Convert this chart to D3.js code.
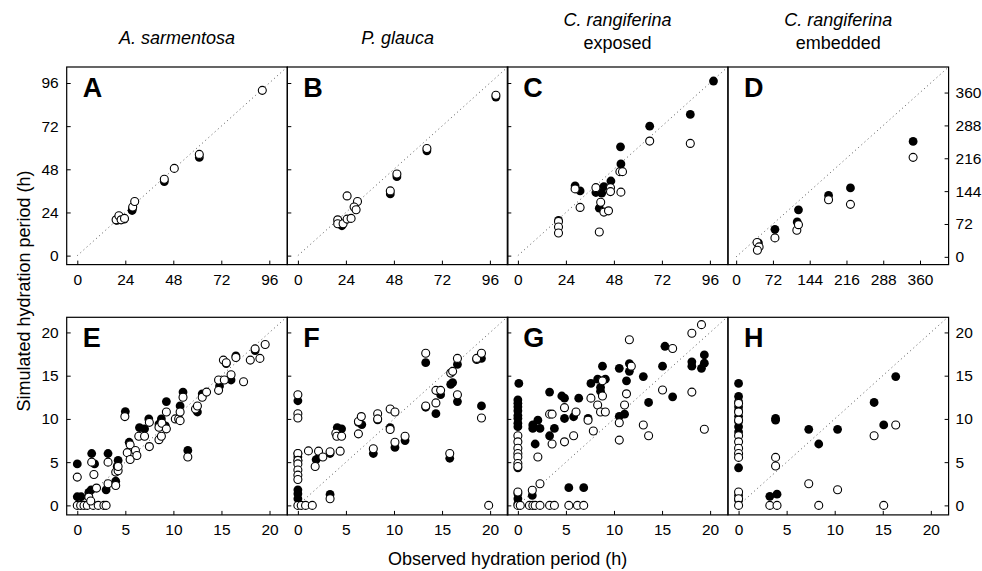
<!DOCTYPE html>
<html>
<head>
<meta charset="utf-8">
<script src="https://cdn.jsdelivr.net/npm/d3@7"></script>
<style>
  body { margin: 0; background: #fff; }
  text { font-family: "Liberation Sans", Arial, Helvetica, sans-serif; fill: #000; }
</style>
</head>
<body>
<div id="chart"></div>
<script>
// panel titles and letters
var titles = [["A. sarmentosa"], ["P. glauca"], ["C. rangiferina", "exposed"], ["C. rangiferina", "embedded"]];
var letters = [["A", "B", "C", "D"], ["E", "F", "G", "H"]];

var ticksHours = [0, 24, 48, 72, 96];
var ticksEmbedded = [0, 72, 144, 216, 288, 360];
var ticksShort = [0, 5, 10, 15, 20];

// [observed, simulated] hydration periods, filled and open symbols
var aFilled = [[19.8,19.6],[21,21.3],[23.5,20.3],[27.4,25.1],[27.6,26.2],[43.5,41.2],[61,54.6]];
var aOpen = [[19.4,19.9],[20.8,22.2],[21.9,19.9],[23.6,20.7],[27.7,27],[28.7,30.1],[43.5,42.5],[48.5,48.5],[61,56.3],[92.5,91.9]];

var bFilled = [[20.1,18.8],[22,16.6],[46.2,34.3],[49.5,43.9],[64.5,58.3],[99,88.2]];
var bOpen = [[19.9,19.9],[19.9,17.7],[22.6,17.7],[24.6,20.3],[26.6,20.7],[24.6,33.2],[29.8,30.1],[28.1,27],[29.1,25.5],[46.2,36],[49.5,45.4],[64.5,59.6],[99,89.2]];

var cFilled = [[20.3,19.6],[28.6,38.8],[31.1,36],[39,35.1],[40.7,26.4],[41.9,34.7],[43,38.4],[46.5,41.5],[51.5,51],[51.3,60.5],[65.9,72],[86.2,78.5],[97.8,97.1]];
var cOpen = [[20.3,19],[20.3,15.9],[20.3,12.6],[28.6,37.1],[31.1,26.8],[39,37.8],[40.7,13.1],[41.4,29.7],[43,24.2],[45.3,24.9],[46.3,37.8],[46.3,35.6],[51,46.7],[52.3,46.7],[51.5,35.3],[65.9,63.7],[86.2,62.4]];

var dFilled = [[43.6,30.5],[75.9,60.4],[119.5,76.4],[122,103],[180.9,134.5],[223.8,151],[346.5,253]];
var dOpen = [[40.9,31.3],[44.9,21.8],[41.6,14.5],[75.9,41.5],[118.8,58.2],[122,70.5],[180.9,125],[223.8,115],[346.5,218]];

var eFilled = [[0,4.8],[0,1.0],[0.4,1.0],[1.2,1.5],[1.45,1.8],[1.5,6.0],[1.8,4.8],[3.0,1.8],[3.2,6.0],[4.0,2.8],[4.15,4.5],[4.25,5.2],[5.0,10.85],[5.4,7.3],[6.47,9.0],[7.0,8.85],[7.44,10.0],[8.5,9.4],[8.75,10.0],[9.17,9.2],[9.27,12.0],[10.7,11.5],[11.0,13.1],[11.5,6.35],[12.5,10.8],[13.0,12.9],[14.8,13.8],[15.5,16.4],[16.0,14.5],[16.5,17.3],[18.5,17.9]];
var eOpen = [[0,3.27],[0,0],[0.35,0],[0.7,0],[1.04,0],[1.66,0],[2.18,0],[2.77,0],[3.0,0],[1.2,0.96],[1.4,0.5],[1.5,5.0],[1.73,3.58],[2.0,2.0],[3.2,2.5],[3.2,5.0],[4.0,2.3],[4.0,3.85],[4.25,4.0],[4.25,4.5],[4.95,10.27],[5.2,6.1],[5.5,5.3],[5.5,7.0],[6.05,6.35],[6.2,5.77],[6.4,8.0],[7.0,8.0],[7.5,6.8],[7.5,9.6],[8.5,7.6],[8.75,8.0],[8.5,9.04],[8.8,9.5],[9.27,8.85],[9.27,10.8],[10.2,10.0],[10.55,10.0],[10.7,9.8],[10.7,10.8],[11.0,12.5],[11.5,5.6],[12.3,11.15],[12.5,11.5],[13.0,12.5],[13.45,13.1],[14.7,13.3],[14.7,14.5],[15.3,14.5],[15.2,16.8],[15.5,16.5],[16.0,15.1],[16.5,17.1],[17.3,14.3],[18.0,16.8],[19.0,17.0],[18.5,18.1],[19.55,18.6]];

var fFilled = [[0,12.1],[0,6.0],[0,5.6],[0,5.2],[0,1.8],[0,1.35],[0,0.77],[1.9,5.3],[2.25,5.65],[3.35,6.0],[3.35,1.27],[4.1,9.0],[4.55,8.85],[6.3,9.6],[6.65,9.35],[7.85,6.0],[8.3,9.9],[9.6,9.0],[10.1,6.7],[11.15,7.5],[13.3,16.5],[13.3,11.35],[14.36,10.6],[14.85,12.8],[15.9,14.0],[16.1,14.2],[15.8,5.45],[16.6,16.3],[16.6,12.0],[18.6,16.85],[19.1,17.0],[19.1,11.5]];
var fOpen = [[0,12.8],[0,10.6],[0,10.1],[0,6.0],[0,5.2],[0,4.8],[0,4.1],[0,3.5],[0,3.0],[0,0],[0.35,0],[0.8,0],[1.5,0],[1.1,6.3],[1.8,4.5],[2.15,6.27],[2.6,5.6],[3.35,6.2],[3.35,0.77],[3.95,8.35],[4.05,8.0],[4.4,6.27],[4.55,8.0],[6.3,8.27],[6.3,9.7],[6.6,10.27],[7.85,6.55],[8.3,10.6],[8.3,10.0],[9.6,11.15],[9.6,8.77],[10.1,10.8],[10.1,7.3],[11.15,8.0],[13.3,17.6],[13.3,11.5],[14.36,11.85],[14.36,13.3],[14.85,13.3],[15.9,15.3],[16.1,15.5],[15.8,6.0],[16.6,17.0],[16.6,12.8],[18.6,17.0],[19.1,17.6],[19.1,10.1],[19.85,0]];

var gFilled = [[0.1,14.1],[0,12.2],[0,11.8],[0,11.4],[0,10.95],[0,10.4],[0,10.05],[0,9.5],[0,9.1],[0,4.35],[0,1.35],[0,0.77],[0,0.2],[1.55,9.3],[1.55,8.9],[2.08,9.85],[2.3,8.9],[1.8,7.1],[1.5,1.15],[3.3,13.1],[3.3,8.05],[3.8,8.9],[4.57,12.65],[4.85,12.4],[4.85,10.05],[5.3,2.05],[5.8,10.25],[6.33,12.4],[6.85,2.05],[7.3,10.05],[7.6,14.1],[8.3,14.6],[8.6,13.65],[8.8,16.1],[8.6,13.2],[9.1,14.6],[10.55,15.85],[10.55,10.3],[11.1,10.55],[11.3,14.4],[11.6,16.4],[11.6,15.5],[13.05,14.9],[13.6,11.9],[15.05,16.1],[15.3,18.4],[16.1,12.55],[18.1,16.6],[18.1,16.1],[19.1,15.85],[19.4,17.4],[19.4,16.45]];
var gOpen = [[0,8.05],[0,7.35],[0,6.6],[0,6.0],[0,5.6],[0,4.85],[0,4.5],[0,1.55],[0,0],[0.25,0],[1.5,1.75],[1.2,0],[1.56,0],[1.8,0],[2.3,0],[3.3,0],[3.8,0],[5.3,0],[6.2,0],[6.85,0],[2.08,5.6],[2.3,2.5],[3.3,10.55],[3.56,10.55],[3.56,7.1],[4.85,11.3],[4.85,7.35],[5.8,8.05],[6.05,10.8],[7.3,9.85],[7.6,12.4],[7.85,8.6],[8.3,11.6],[8.6,10.8],[8.8,12.65],[8.8,14.4],[9.1,10.8],[10.55,9.55],[10.55,7.55],[11.1,11.6],[11.3,12.9],[11.6,19.15],[11.8,16.1],[13.05,9.3],[13.6,8.05],[15.05,13.35],[16.1,18.15],[18.1,19.9],[18.1,13.1],[19.1,20.9],[19.4,8.8]];

var hFilled = [[0,14.1],[0,12.6],[0,12.0],[0,11.4],[0,10.95],[0,10.3],[0,9.7],[0,9.1],[0,8.5],[0,4.35],[0,1.15],[0,0.6],[3.25,1.05],[4.0,1.3],[3.85,10.05],[3.85,9.85],[7.3,8.8],[8.34,7.1],[10.3,8.8],[14.1,11.9],[15.1,9.3],[16.35,14.9]];
var hOpen = [[0,11.8],[0,10.8],[0,9.85],[0,8.05],[0,7.35],[0,6.6],[0,6.0],[0,5.55],[0,1.55],[0,0.77],[0,0],[3.25,0],[4.0,0],[3.85,5.55],[3.85,4.55],[7.3,2.5],[8.34,0],[10.3,1.8],[14.1,8.05],[15.1,0],[16.35,9.3]];

var width = 982, height = 571;
var colLeft = [66.7, 287.3, 507.3, 728], colW = 220.6;
var rowTop = [67, 317.3], rowH = 197.6;

var svg = d3.select("#chart").append("svg")
    .attr("width", width)
    .attr("height", height);

var panels = [
  {row: 0, col: 0, filled: aFilled, open: aOpen, dom: [-5.3, 105], ydom: [-5, 104.9], ticks: ticksHours},
  {row: 0, col: 1, filled: bFilled, open: bOpen, dom: [-5.3, 105], ydom: [-5, 104.9], ticks: ticksHours},
  {row: 0, col: 2, filled: cFilled, open: cOpen, dom: [-5.3, 105], ydom: [-5, 104.9], ticks: ticksHours},
  {row: 0, col: 3, filled: dFilled, open: dOpen, dom: [-16, 416], ydom: [-17, 416], ticks: ticksEmbedded},
  {row: 1, col: 0, filled: eFilled, open: eOpen, dom: [-1.1, 21.85], ydom: [-1.1, 21.75], ticks: ticksShort},
  {row: 1, col: 1, filled: fFilled, open: fOpen, dom: [-1.1, 21.85], ydom: [-1.1, 21.75], ticks: ticksShort},
  {row: 1, col: 2, filled: gFilled, open: gOpen, dom: [-1.1, 21.85], ydom: [-1.1, 21.75], ticks: ticksShort},
  {row: 1, col: 3, filled: hFilled, open: hOpen, dom: [-1.1, 21.85], ydom: [-1.1, 21.75], ticks: ticksShort}
];

panels.forEach(function(p, i) {
  var x0 = colLeft[p.col], y0 = rowTop[p.row];
  var x = d3.scaleLinear().domain(p.dom).range([x0, x0 + colW]);
  var y = d3.scaleLinear().domain(p.ydom).range([y0 + rowH, y0]);
  var g = svg.append("g");

  g.append("clipPath").attr("id", "clip" + i)
    .append("rect").attr("x", x0).attr("y", y0).attr("width", colW).attr("height", rowH);

  // 1:1 line
  var top = Math.min(p.dom[1], p.ydom[1]);
  g.append("line")
    .attr("clip-path", "url(#clip" + i + ")")
    .attr("x1", x(0)).attr("y1", y(0))
    .attr("x2", x(top)).attr("y2", y(top))
    .attr("stroke", "#555")
    .attr("stroke-width", 1)
    .attr("stroke-dasharray", "1,3.2");

  // x ticks, inward
  var xAxis = d3.axisBottom(x).tickValues(p.ticks).tickSize(-4).tickPadding(9).tickFormat(d3.format("d"));
  var xg = g.append("g").attr("transform", "translate(0," + (y0 + rowH) + ")").call(xAxis);
  xg.select(".domain").remove();
  xg.selectAll("text").style("font-size", "15.5px");

  // y ticks, inward
  if (p.col < 3) {
    var yAxis = d3.axisLeft(y).tickValues(p.ticks).tickSize(-4).tickPadding(8).tickFormat(d3.format("d"));
    var yg = g.append("g").attr("transform", "translate(" + x0 + ",0)").call(yAxis);
    yg.select(".domain").remove();
    yg.selectAll("text").style("font-size", "15.5px");
    if (p.col > 0) yg.selectAll("text").remove();
  } else {
    var yAxisR = d3.axisRight(y).tickValues(p.ticks).tickSize(-4).tickPadding(7).tickFormat(d3.format("d"));
    var yr = g.append("g").attr("transform", "translate(" + (x0 + colW) + ",0)").call(yAxisR);
    yr.select(".domain").remove();
    yr.selectAll("text").style("font-size", "15.5px");
  }

  // points: filled first, open drawn over them
  g.selectAll(".filled").data(p.filled).enter().append("circle")
    .attr("class", "filled")
    .attr("cx", function(d) { return x(d[0]); })
    .attr("cy", function(d) { return y(d[1]); })
    .attr("r", 4.4)
    .attr("fill", "#000");

  g.selectAll(".open").data(p.open).enter().append("circle")
    .attr("class", "open")
    .attr("cx", function(d) { return x(d[0]); })
    .attr("cy", function(d) { return y(d[1]); })
    .attr("r", 4)
    .attr("fill", "#fff")
    .attr("stroke", "#000")
    .attr("stroke-width", 1.1);

  g.append("rect")
    .attr("x", x0).attr("y", y0).attr("width", colW).attr("height", rowH)
    .attr("fill", "none").attr("stroke", "#000").attr("stroke-width", 1.2);

  g.append("text")
    .attr("x", x0 + 16).attr("y", y0 + 30)
    .style("font-size", "27px").style("font-weight", "bold")
    .text(letters[p.row][p.col]);
});

// column titles
titles.forEach(function(t, i) {
  var cx = colLeft[i] + colW / 2;
  if (t.length === 1) {
    svg.append("text").attr("x", cx).attr("y", 44)
      .attr("text-anchor", "middle")
      .style("font-size", "18px").style("font-style", "italic")
      .text(t[0]);
  } else {
    svg.append("text").attr("x", cx).attr("y", 26)
      .attr("text-anchor", "middle")
      .style("font-size", "18px").style("font-style", "italic")
      .text(t[0]);
    svg.append("text").attr("x", cx).attr("y", 48.5)
      .attr("text-anchor", "middle")
      .style("font-size", "18px")
      .text(t[1]);
  }
});

svg.append("text")
  .attr("x", (colLeft[0] + colLeft[3] + colW) / 2).attr("y", 565)
  .attr("text-anchor", "middle")
  .style("font-size", "18px")
  .text("Observed hydration period (h)");

svg.append("text")
  .attr("transform", "translate(29.5," + (rowTop[0] + rowTop[1] + rowH) / 2 + ") rotate(-90)")
  .attr("text-anchor", "middle")
  .style("font-size", "18px")
  .text("Simulated hydration period (h)");
</script>
</body>
</html>
